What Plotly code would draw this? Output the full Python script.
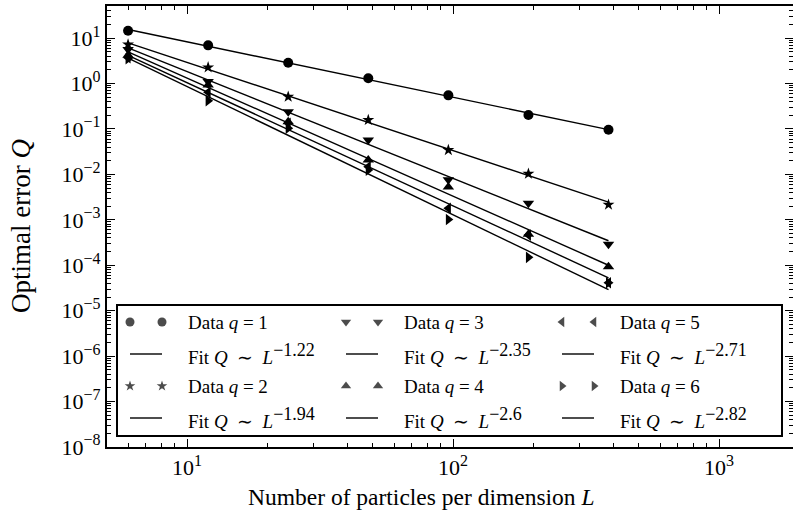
import numpy as np
import plotly.graph_objects as go

# Number of particles per dimension
L = [6, 12, 24, 48, 96, 192, 384]

# Optimal error Q for each q
Q1 = [14.5, 6.9, 2.86, 1.30, 0.548, 0.202, 0.096]
Q2 = [7.2, 2.26, 0.51, 0.157, 0.0343, 0.0103, 0.00215]
Q3 = [5.6, 1.10, 0.239, 0.0569, 0.0076, 0.0023, 0.000288]
Q4 = [4.2, 0.92, 0.144, 0.0207, 0.0053, 0.00048, 0.000093]
Q5 = [3.7, 0.64, 0.133, 0.0147, 0.00179, 0.00046, 0.000041]
Q6 = [3.5, 0.417, 0.103, 0.0124, 0.00102, 0.000149, 0.000041]

Q_VALUES = [1, 2, 3, 4, 5, 6]
FIT_EXPONENTS = [1.22, 1.94, 2.35, 2.6, 2.71, 2.82]
SERIES = [Q1, Q2, Q3, Q4, Q5, Q6]

X_EXPONENTS = [1, 2, 3]
Y_EXPONENTS = list(range(-8, 2))

SYMBOLS = ["circle", "star", "triangle-down", "triangle-up", "triangle-left", "triangle-right"]
SIZES = [10, 9, 10, 10, 10, 10]

FONT = "Liberation Serif"
W, H = 793, 518
ML, MR, MT, MB = 107, 0, 6, 71
PW, PH = W - ML - MR, H - MT - MB

X_RANGE = [np.log10(5.0), 3.278]
Y_RANGE = [-8.0, 1.705]


def px(x):
    return (x - ML) / PW


def py(y):
    return (H - MB - y) / PH


def minor_vals(lo, hi):
    return [m * 10.0 ** d for d in range(lo, hi) for m in range(2, 10)]


def sup(text, size):
    return "<sup><span style='font-size:%dpx'>%s</span></sup>" % (size, text)


def power_label(k):
    return "10" + sup(str(k).replace("-", "\u2212"), 16)


fig = go.Figure()

Larr = np.array(L, dtype=float)
for q, vals, p, sym, sz in zip(Q_VALUES, SERIES, FIT_EXPONENTS, SYMBOLS, SIZES):
    v = np.array(vals, dtype=float)
    logc = np.mean(np.log10(v) + p * np.log10(Larr))
    fit = 10 ** logc * Larr ** (-p)
    fig.add_trace(go.Scatter(x=L, y=vals, mode="markers",
                             marker=dict(symbol=sym, size=sz, color="black", line=dict(width=0)),
                             showlegend=False, cliponaxis=False))
    fig.add_trace(go.Scatter(x=L, y=fit, mode="lines",
                             line=dict(color="black", width=1.4), showlegend=False))

# right-hand tick marks (no spine)
fig.add_trace(go.Scatter(x=[None], y=[None], yaxis="y2", showlegend=False))

# legend: 3 columns x 4 rows, column-major
entries = []
for q, p, sym, sz in zip(Q_VALUES, FIT_EXPONENTS, SYMBOLS, SIZES):
    entries.append(("data", q, sym, sz, p))
    entries.append(("fit", q, sym, sz, p))

COL_TEXT_X = [186, 402, 618]
ROW_Y = [322, 354, 386, 418]

shapes = [dict(type="rect", xref="paper", yref="paper",
               x0=px(117), x1=px(782), y0=py(436), y1=py(305),
               line=dict(color="black", width=2), fillcolor="white", layer="below")]
annotations = []
hx, hy, hs, hsz = [], [], [], []
for i, (kind, q, sym, sz, p) in enumerate(entries):
    col, row = i // 4, i % 4
    tx, ty = COL_TEXT_X[col], ROW_Y[row]
    x0, x1 = tx - 56, tx - 24
    if kind == "data":
        text = "Data <i>q</i> = %d" % q
        hx += [px(x0), px(x1)]
        hy += [py(ty), py(ty)]
        hs += [sym, sym]
        hsz += [sz - 1, sz - 1]
    else:
        text = ("Fit <i>Q</i>\u2002\u223c\u2002<i>L</i>"
                + sup("\u2212%g" % p, 18))
        shapes.append(dict(type="line", xref="paper", yref="paper",
                           x0=px(x0), x1=px(x1), y0=py(ty), y1=py(ty),
                           line=dict(color="black", width=1.4)))
    annotations.append(dict(x=px(tx), y=py(ty), xref="paper", yref="paper",
                            text=text, showarrow=False, xanchor="left", yanchor="middle",
                            font=dict(family=FONT, size=19, color="black")))

fig.add_trace(go.Scatter(x=hx, y=hy, xaxis="x3", yaxis="y3", mode="markers",
                         marker=dict(symbol=hs, size=hsz, color="black", line=dict(width=0)),
                         showlegend=False, cliponaxis=False))

annotations.append(dict(x=px(421), y=py(497), xref="paper", yref="paper",
                        text="Number of particles per dimension <i>L</i>", showarrow=False,
                        xanchor="center", yanchor="middle",
                        font=dict(family=FONT, size=23.5, color="black")))
annotations.append(dict(x=px(21), y=py(226), xref="paper", yref="paper",
                        text="Optimal error <i>Q</i>", showarrow=False, textangle=-90,
                        xanchor="center", yanchor="middle",
                        font=dict(family=FONT, size=27, color="black")))

tick_font = dict(family=FONT, size=22, color="black")

fig.update_layout(
    width=W, height=H,
    margin=dict(l=ML, r=MR, t=MT, b=MB),
    paper_bgcolor="white", plot_bgcolor="white",
    showlegend=False,
    xaxis=dict(type="log", range=X_RANGE, tickmode="array",
               tickvals=[10.0 ** k for k in X_EXPONENTS],
               ticktext=[power_label(k) for k in X_EXPONENTS],
               ticks="inside", ticklen=8, tickwidth=1, tickcolor="black",
               showline=True, linecolor="black", linewidth=2, mirror="ticks",
               showgrid=False, zeroline=False, tickfont=tick_font,
               minor=dict(tickmode="array", tickvals=minor_vals(0, 4), ticks="inside",
                          ticklen=4, tickwidth=1, tickcolor="black", showgrid=False)),
    yaxis=dict(type="log", range=Y_RANGE, tickmode="array",
               tickvals=[10.0 ** k for k in Y_EXPONENTS],
               ticktext=[power_label(k) for k in Y_EXPONENTS],
               ticks="inside", ticklen=8, tickwidth=1, tickcolor="black",
               showline=True, linecolor="black", linewidth=2, mirror=False,
               showgrid=False, zeroline=False, tickfont=tick_font,
               minor=dict(tickmode="array", tickvals=minor_vals(-8, 2), ticks="inside",
                          ticklen=4, tickwidth=1, tickcolor="black", showgrid=False)),
    yaxis2=dict(type="log", range=Y_RANGE, overlaying="y", side="right", anchor="x",
                tickmode="array", tickvals=[10.0 ** k for k in Y_EXPONENTS], showticklabels=False,
                ticks="inside", ticklen=8, tickwidth=1, tickcolor="black",
                showline=False, showgrid=False, zeroline=False,
                minor=dict(tickmode="array", tickvals=minor_vals(-8, 2), ticks="inside",
                           ticklen=4, tickwidth=1, tickcolor="black", showgrid=False)),
    xaxis3=dict(range=[0, 1], overlaying="x", anchor="y3", visible=False, fixedrange=True),
    yaxis3=dict(range=[0, 1], overlaying="y", anchor="x3", visible=False, fixedrange=True),
    shapes=shapes,
    annotations=annotations,
)

fig.write_html("out.html")
